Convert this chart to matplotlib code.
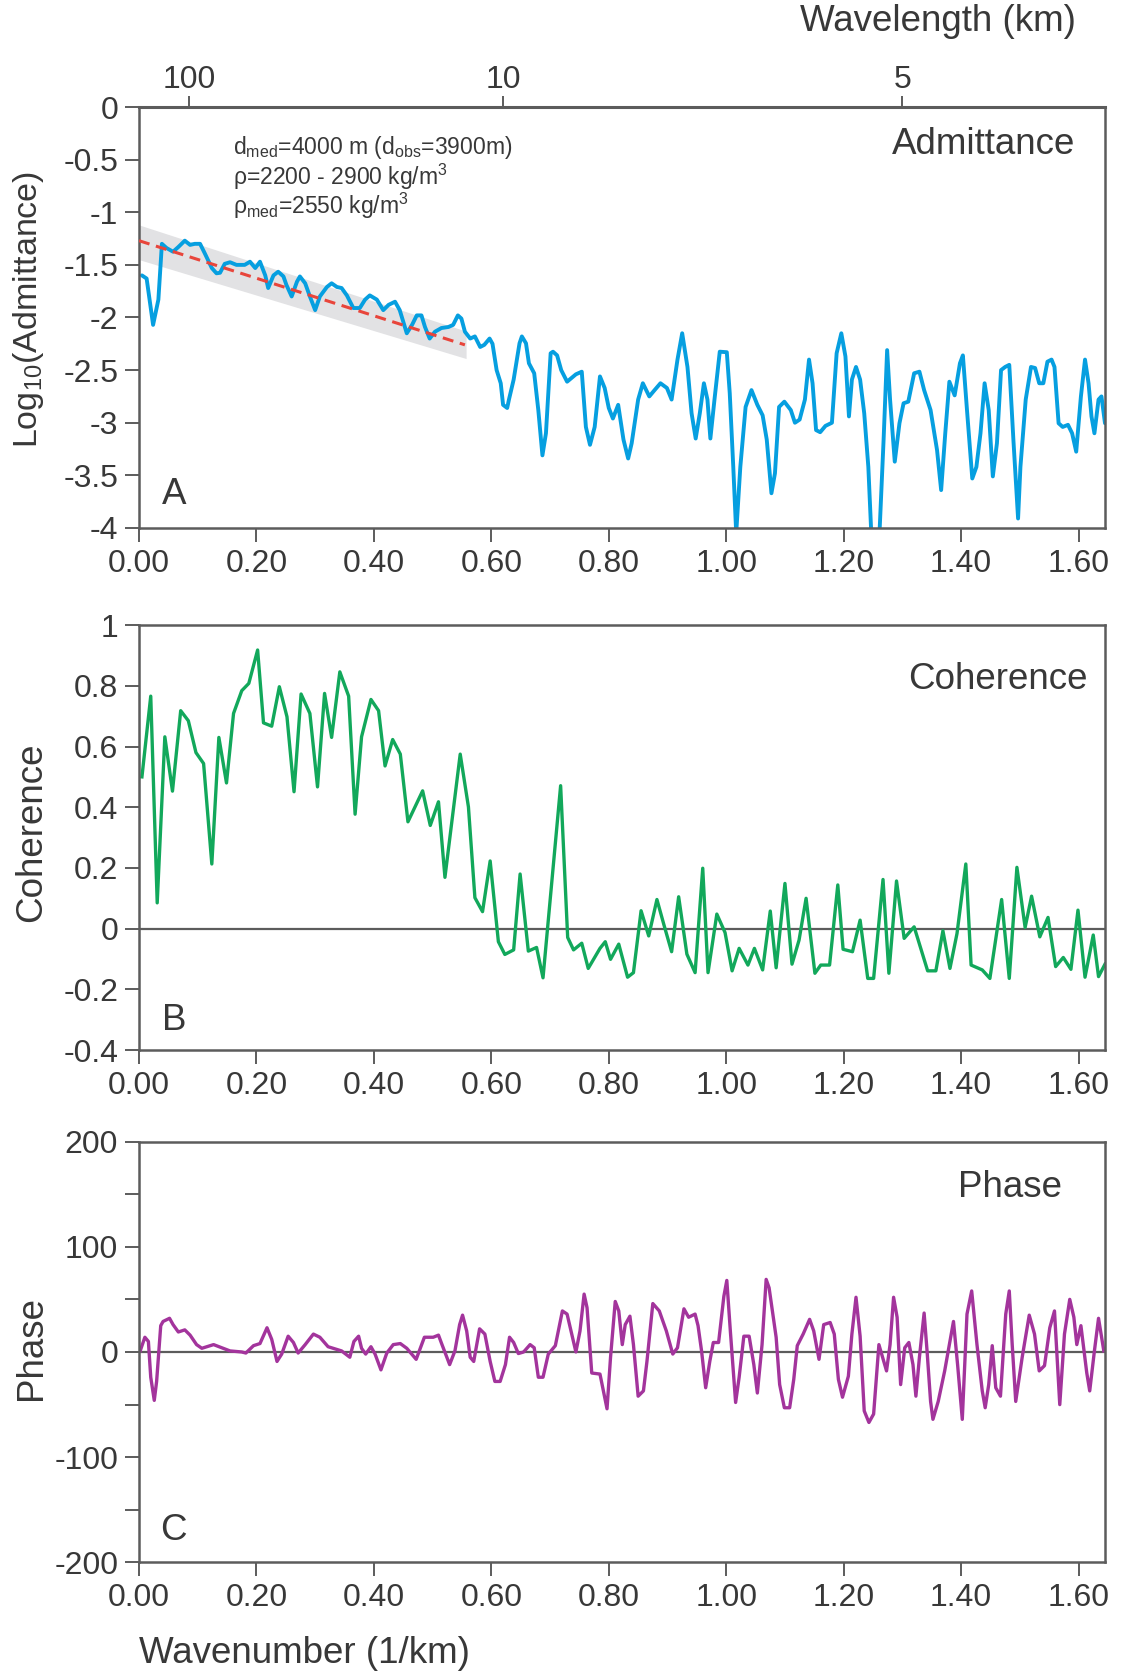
import matplotlib
matplotlib.use("Agg")
import matplotlib.pyplot as plt
from matplotlib.ticker import FuncFormatter, MultipleLocator

plt.rcParams["font.family"] = ["Liberation Sans", "DejaVu Sans"]
plt.rcParams["mathtext.fontset"] = "custom"
plt.rcParams["mathtext.rm"] = "Liberation Sans"
plt.rcParams["mathtext.it"] = "Liberation Sans:italic"
plt.rcParams["axes.unicode_minus"] = False

# --- admittance (log10), wavenumber in 1/km ---
ADM_K = [0.005, 0.013, 0.024, 0.033, 0.039, 0.047, 0.058, 0.067, 0.078, 0.087,
         0.095, 0.104, 0.112, 0.124, 0.132, 0.138, 0.146, 0.155, 0.166, 0.180,
         0.189, 0.198, 0.206, 0.215, 0.220, 0.229, 0.237, 0.246, 0.251, 0.260,
         0.269, 0.274, 0.283, 0.291, 0.300, 0.308, 0.320, 0.328, 0.337, 0.345,
         0.354, 0.365, 0.376, 0.385, 0.393, 0.405, 0.416, 0.425, 0.436, 0.444,
         0.456, 0.465, 0.473, 0.481, 0.487, 0.495, 0.504, 0.515, 0.527, 0.535,
         0.543, 0.549, 0.555, 0.564, 0.572,
         0.581, 0.588, 0.597, 0.602, 0.609, 0.616, 0.620, 0.627, 0.630, 0.638,
         0.648, 0.652, 0.659, 0.664, 0.673, 0.680, 0.687, 0.693, 0.701, 0.705,
         0.712, 0.719, 0.729, 0.744, 0.754, 0.761, 0.768, 0.776, 0.785, 0.793,
         0.800, 0.807, 0.816, 0.825, 0.833, 0.839, 0.850, 0.858, 0.869, 0.878,
         0.888, 0.899, 0.907, 0.917, 0.925, 0.934, 0.941, 0.948, 0.955, 0.962,
         0.968, 0.973, 0.980, 0.989, 1.001, 1.006, 1.012, 1.017, 1.024, 1.033,
         1.043, 1.053, 1.062, 1.069, 1.077, 1.083, 1.090, 1.099, 1.110, 1.117,
         1.125, 1.134, 1.141, 1.147, 1.153, 1.160, 1.169, 1.180, 1.188, 1.196,
         1.203, 1.209, 1.214, 1.221, 1.228, 1.235, 1.242, 1.247, 1.261, 1.268,
         1.274, 1.279, 1.287, 1.295, 1.302, 1.310, 1.320, 1.329, 1.337, 1.348,
         1.359, 1.366, 1.373, 1.380, 1.389, 1.398, 1.403, 1.410, 1.419, 1.426,
         1.433, 1.440, 1.447, 1.454, 1.461, 1.468, 1.475, 1.482, 1.489, 1.497,
         1.501, 1.510, 1.519, 1.526, 1.533, 1.540, 1.547, 1.554, 1.559, 1.566,
         1.573, 1.582, 1.589, 1.596, 1.604, 1.611, 1.617, 1.622, 1.627, 1.634,
         1.639, 1.645]
ADM_V = [-1.60, -1.63, -2.07, -1.83, -1.30, -1.34, -1.375, -1.33, -1.27, -1.31,
         -1.30, -1.30, -1.39, -1.53, -1.58, -1.575, -1.49, -1.475, -1.50, -1.50,
         -1.47, -1.53, -1.47, -1.60, -1.72, -1.60, -1.565, -1.61, -1.69, -1.80,
         -1.66, -1.61, -1.675, -1.80, -1.93, -1.80, -1.71, -1.675, -1.71, -1.72,
         -1.79, -1.91, -1.91, -1.83, -1.79, -1.83, -1.93, -1.88, -1.85, -1.93,
         -2.15, -2.07, -1.98, -1.98, -2.09, -2.20, -2.135, -2.10, -2.09, -2.07,
         -1.98, -2.01, -2.135, -2.20, -2.18,
         -2.28, -2.26, -2.20, -2.25, -2.50, -2.625, -2.83, -2.86, -2.78, -2.59,
         -2.245, -2.18, -2.245, -2.435, -2.53, -2.88, -3.31, -3.10, -2.34, -2.325,
         -2.36, -2.50, -2.61, -2.54, -2.515, -3.04, -3.21, -3.04, -2.56, -2.67,
         -2.86, -2.96, -2.83, -3.16, -3.34, -3.195, -2.78, -2.625, -2.75, -2.69,
         -2.625, -2.67, -2.78, -2.40, -2.15, -2.47, -2.91, -3.15, -2.91, -2.625,
         -2.78, -3.15, -2.78, -2.325, -2.33, -2.72, -3.42, -4.05, -3.42, -2.85,
         -2.69, -2.83, -2.93, -3.16, -3.67, -3.48, -2.85, -2.80, -2.88, -3.00,
         -2.97, -2.78, -2.40, -2.625, -3.07, -3.09, -3.03, -3.00, -2.34, -2.15,
         -2.37, -2.94, -2.59, -2.47, -2.59, -2.91, -3.42, -4.05, -4.05, -3.16,
         -2.31, -2.78, -3.37, -3.005, -2.815, -2.80, -2.53, -2.515, -2.69, -2.88,
         -3.26, -3.64, -3.10, -2.61, -2.74, -2.435, -2.36, -2.88, -3.53, -3.42,
         -3.10, -2.625, -2.88, -3.51, -3.195, -2.50, -2.47, -2.45, -3.16, -3.91,
         -3.42, -2.78, -2.47, -2.48, -2.625, -2.625, -2.42, -2.40, -2.47, -3.005,
         -3.04, -3.02, -3.10, -3.275, -2.75, -2.40, -2.625, -2.94, -3.10, -2.78,
         -2.75, -3.005]

# fitted trend and its uncertainty band
FIT_K = [0.0, 0.555]
FIT_V = [-1.27, -2.26]
BAND_K = [0.0, 0.557]
BAND_TOP = [-1.12, -2.13]
BAND_BOT = [-1.45, -2.39]

# --- coherence ---
COH_K = [0.005, 0.020, 0.031, 0.044, 0.057, 0.071, 0.084, 0.097, 0.110, 0.124,
         0.136, 0.149, 0.161, 0.175, 0.187, 0.202, 0.212, 0.226, 0.239, 0.252,
         0.264, 0.276, 0.291, 0.304, 0.316, 0.328, 0.342, 0.357, 0.368, 0.379,
         0.395, 0.408, 0.419, 0.432, 0.445, 0.458, 0.483, 0.496, 0.510, 0.521,
         0.547, 0.561, 0.572, 0.585, 0.598, 0.612, 0.623, 0.638, 0.649, 0.663,
         0.677, 0.688, 0.718, 0.730, 0.740, 0.754, 0.765,
         0.785, 0.794, 0.803, 0.817, 0.832, 0.842, 0.855, 0.868, 0.882, 0.894,
         0.907, 0.919, 0.933, 0.947, 0.960, 0.969, 0.984, 0.998, 1.010, 1.022,
         1.037, 1.048, 1.062, 1.075, 1.085, 1.100, 1.112, 1.124, 1.136, 1.151,
         1.161, 1.176, 1.190, 1.199, 1.215, 1.228, 1.241, 1.251, 1.267, 1.277,
         1.290, 1.303, 1.320, 1.343, 1.357, 1.369, 1.381, 1.393, 1.408, 1.417,
         1.436, 1.449, 1.469, 1.482, 1.495, 1.509, 1.520, 1.534, 1.548, 1.561,
         1.574, 1.587, 1.599, 1.611, 1.625, 1.634, 1.645]
COH_V = [0.50, 0.766, 0.085, 0.632, 0.453, 0.718, 0.685, 0.58, 0.544, 0.213,
         0.630, 0.48, 0.709, 0.784, 0.808, 0.918, 0.678, 0.667, 0.797, 0.698,
         0.451, 0.773, 0.709, 0.467, 0.775, 0.630, 0.846, 0.766, 0.377, 0.632,
         0.755, 0.718, 0.536, 0.623, 0.575, 0.352, 0.454, 0.340, 0.418, 0.169,
         0.575, 0.401, 0.102, 0.056, 0.223, -0.043, -0.085, -0.07, 0.18, -0.074,
         -0.062, -0.162, 0.471, -0.029, -0.07, -0.048, -0.131,
         -0.065, -0.043, -0.101, -0.051, -0.160, -0.145, 0.059, -0.024, 0.096, 0.012,
         -0.076, 0.105, -0.084, -0.145, 0.199, -0.145, 0.048, -0.013, -0.139, -0.065,
         -0.12, -0.065, -0.136, 0.058, -0.129, 0.149, -0.117, -0.038, 0.10, -0.147,
         -0.12, -0.12, 0.144, -0.068, -0.076, 0.028, -0.164, -0.164, 0.162, -0.147,
         0.157, -0.032, 0.006, -0.139, -0.139, -0.007, -0.131, -0.016, 0.213, -0.12,
         -0.136, -0.164, 0.096, -0.164, 0.202, 0.004, 0.107, -0.027, 0.037, -0.125,
         -0.095, -0.134, 0.061, -0.160, -0.021, -0.158, -0.117]

# --- phase (degrees) ---
PH_K = [0.002, 0.010, 0.016, 0.020, 0.026, 0.030, 0.037, 0.041, 0.052, 0.058,
        0.067, 0.078, 0.087, 0.098, 0.107, 0.127, 0.141, 0.155, 0.175, 0.182,
        0.195, 0.206, 0.218, 0.226, 0.235, 0.243, 0.254, 0.263, 0.271, 0.283,
        0.297, 0.308, 0.322, 0.345, 0.359, 0.366, 0.374, 0.379, 0.386, 0.395,
        0.402, 0.412, 0.422, 0.433, 0.445, 0.456, 0.472, 0.486, 0.501, 0.510,
        0.516, 0.529, 0.538, 0.546, 0.551, 0.558, 0.564, 0.570, 0.580, 0.589,
        0.598, 0.606, 0.615, 0.624, 0.631, 0.638, 0.646, 0.655, 0.666, 0.673,
        0.680, 0.688, 0.697, 0.709, 0.721, 0.729, 0.744, 0.751, 0.758, 0.763,
        0.771,
        0.785, 0.797, 0.803, 0.811, 0.817, 0.823, 0.828, 0.836, 0.842, 0.850,
        0.859, 0.865, 0.875, 0.886, 0.898, 0.909, 0.917, 0.928, 0.936, 0.947,
        0.952, 0.958, 0.965, 0.972, 0.978, 0.987, 0.996, 1.001, 1.007, 1.016,
        1.022, 1.030, 1.039, 1.047, 1.053, 1.061, 1.068, 1.073, 1.085, 1.091,
        1.099, 1.108, 1.115, 1.121, 1.131, 1.142, 1.149, 1.158, 1.166, 1.177,
        1.184, 1.191, 1.198, 1.208, 1.214, 1.221, 1.228, 1.235, 1.243, 1.251,
        1.260, 1.273, 1.279, 1.285, 1.291, 1.297, 1.304, 1.311, 1.318, 1.323,
        1.329, 1.337, 1.342, 1.348, 1.352, 1.361, 1.372, 1.387, 1.394, 1.402,
        1.410, 1.418, 1.427, 1.436, 1.441, 1.447, 1.453, 1.459, 1.467, 1.476,
        1.482, 1.487, 1.493, 1.504, 1.516, 1.525, 1.533, 1.542, 1.551, 1.559,
        1.568, 1.576, 1.585, 1.592, 1.597, 1.604, 1.614, 1.619, 1.627, 1.634,
        1.643]
PH_V = [1, 14, 10, -24, -46, -28, 25, 29, 32, 26,
        19, 21, 16, 7, 3.5, 7, 4, 1, 0, -1,
        6, 8, 23, 12, -9, -2, 15, 9, -1, 7,
        17, 14, 5, 1, -5, 10, 15, 3.5, -2, 5,
        -2, -17, -1, 7, 8, 3.5, -7, 14, 14, 16,
        7, -12, 1, 26, 35, 20, -5, -9, 22, 17,
        -9, -28, -28, -12, 14, 9, -1.5, 0, 7, 4,
        -24, -24, -2, 6, 39, 36, 0, 20, 55, 42,
        -20,
        -21, -54, -5, 48, 39, 7, 26, 34, 7, -42,
        -37, -9, 46, 39, 20, -2, 4, 41, 33, 36,
        25, 1, -34, -9, 9, 9, 53, 68, 20, -48,
        -24, 15, 15, -12, -39, 7, 69, 61, 14, -31,
        -53, -53, -26, 6, 17, 31, 20, -7, 26, 28,
        17, -26, -43, -23, 17, 52, 15, -56, -67, -59,
        7, -18, 7, 52, 33, -31, 4, 9, -12, -42,
        -5, 37, 1, -47, -64, -47, -18, 29, -12, -64,
        36, 58, 7, -37, -53, -31, 6, -34, -42, 36,
        58, 7, -47, -5, 35, 17, -18, -13, 23, 39,
        -50, 17, 50, 33, 7, 25, -20, -37, 1, 32,
        1]

# wavelength ticks on the top axis of panel A
WAVELENGTH_POS = [0.085, 0.62, 1.30]
WAVELENGTH_LABELS = ["100", "10", "5"]

INK = "#383838"
SPINE = "#5c5c5c"
BLUE = "#069fe0"
GREEN = "#12a85b"
PURPLE = "#a3349c"
RED = "#e8453b"
BAND = "#e2e2e4"

TICK_SIZE = 23
LABEL_SIZE = 26.5


def fmt_y(v, pos):
    return f"{round(v, 3) + 0.0:g}"


def fmt_x(v, pos):
    return f"{abs(round(v, 3)):.2f}"


def style_axes(ax, ylim, ystep, yminor=None):
    ax.set_xlim(0, 1.645)
    ax.set_ylim(*ylim)
    ax.xaxis.set_major_locator(MultipleLocator(0.2))
    ax.xaxis.set_major_formatter(FuncFormatter(fmt_x))
    ax.yaxis.set_major_locator(MultipleLocator(ystep))
    ax.yaxis.set_major_formatter(FuncFormatter(fmt_y))
    if yminor:
        ax.yaxis.set_minor_locator(MultipleLocator(yminor))
    ax.tick_params(which="both", direction="out", length=10, width=1.4,
                   color=SPINE, labelsize=TICK_SIZE, labelcolor=INK, pad=5)
    for s in ax.spines.values():
        s.set_color(SPINE)
        s.set_linewidth(1.8)


fig = plt.figure(figsize=(11.31, 16.75), dpi=100)
ax_a = fig.add_axes([0.1229, 0.6848, 0.8541, 0.2513])
ax_b = fig.add_axes([0.1229, 0.3731, 0.8541, 0.2537])
ax_c = fig.add_axes([0.1229, 0.0672, 0.8541, 0.2513])

# panel A
style_axes(ax_a, (-4, 0), 0.5)
ax_a.fill_between(BAND_K, BAND_TOP, BAND_BOT, color=BAND, lw=0, zorder=1)
ax_a.plot(ADM_K, ADM_V, color=BLUE, lw=2.8, zorder=2,
          solid_joinstyle="round", solid_capstyle="round")
ax_a.plot(FIT_K, FIT_V, color=RED, lw=2.2, dashes=(3.6, 2.2), zorder=3)
ax_a.text(0.969, 0.91, "Admittance", transform=ax_a.transAxes, ha="right",
          va="center", fontsize=LABEL_SIZE, color=INK)
ax_a.text(0.036, 0.08, "A", transform=ax_a.transAxes, ha="center",
          va="center", fontsize=LABEL_SIZE, color=INK)
note = [r"d$_{\mathrm{med}}$=4000 m (d$_{\mathrm{obs}}$=3900m)",
        r"ρ=2200 - 2900 kg/m$^{3}$",
        r"ρ$_{\mathrm{med}}$=2550 kg/m$^{3}$"]
for i, line in enumerate(note):
    ax_a.text(0.097, 0.905 - i * 0.07, line, transform=ax_a.transAxes,
              ha="left", va="center", fontsize=16.5, color=INK)

top = ax_a.secondary_xaxis("top")
top.set_xticks(WAVELENGTH_POS, labels=WAVELENGTH_LABELS)
top.tick_params(direction="out", length=8, width=1.4, color=SPINE,
                labelsize=TICK_SIZE, labelcolor=INK, pad=1)
top.spines["top"].set_color(SPINE)
top.spines["top"].set_linewidth(2.2)

# panel B
style_axes(ax_b, (-0.4, 1), 0.2)
ax_b.axhline(0, color=SPINE, lw=1.6, zorder=1)
ax_b.plot(COH_K, COH_V, color=GREEN, lw=2.4, zorder=2)
ax_b.text(0.982, 0.873, "Coherence", transform=ax_b.transAxes, ha="right",
          va="center", fontsize=LABEL_SIZE, color=INK)
ax_b.text(0.036, 0.07, "B", transform=ax_b.transAxes, ha="center",
          va="center", fontsize=LABEL_SIZE, color=INK)

# panel C
style_axes(ax_c, (-200, 200), 100, yminor=50)
ax_c.axhline(0, color=SPINE, lw=1.6, zorder=1)
ax_c.plot(PH_K, PH_V, color=PURPLE, lw=2.4, zorder=2,
          solid_joinstyle="round")
ax_c.text(0.956, 0.89, "Phase", transform=ax_c.transAxes, ha="right",
          va="center", fontsize=LABEL_SIZE, color=INK)
ax_c.text(0.036, 0.076, "C", transform=ax_c.transAxes, ha="center",
          va="center", fontsize=LABEL_SIZE, color=INK)

# axis titles
fig.text(0.0256, 0.815, r"Log$_{10}$(Admittance)", rotation=90, ha="center",
         va="center", fontsize=24.5, color=INK)
fig.text(0.028, 0.503, "Coherence", rotation=90, ha="center", va="center",
         fontsize=LABEL_SIZE, color=INK)
fig.text(0.028, 0.195, "Phase", rotation=90, ha="center", va="center",
         fontsize=LABEL_SIZE, color=INK)
fig.text(0.829, 0.987, "Wavelength (km)", ha="center", va="center",
         fontsize=LABEL_SIZE, color=INK)
fig.text(0.1229, 0.0131, "Wavenumber (1/km)", ha="left", va="center",
         fontsize=LABEL_SIZE, color=INK)

fig.savefig("out.png", dpi=100)
